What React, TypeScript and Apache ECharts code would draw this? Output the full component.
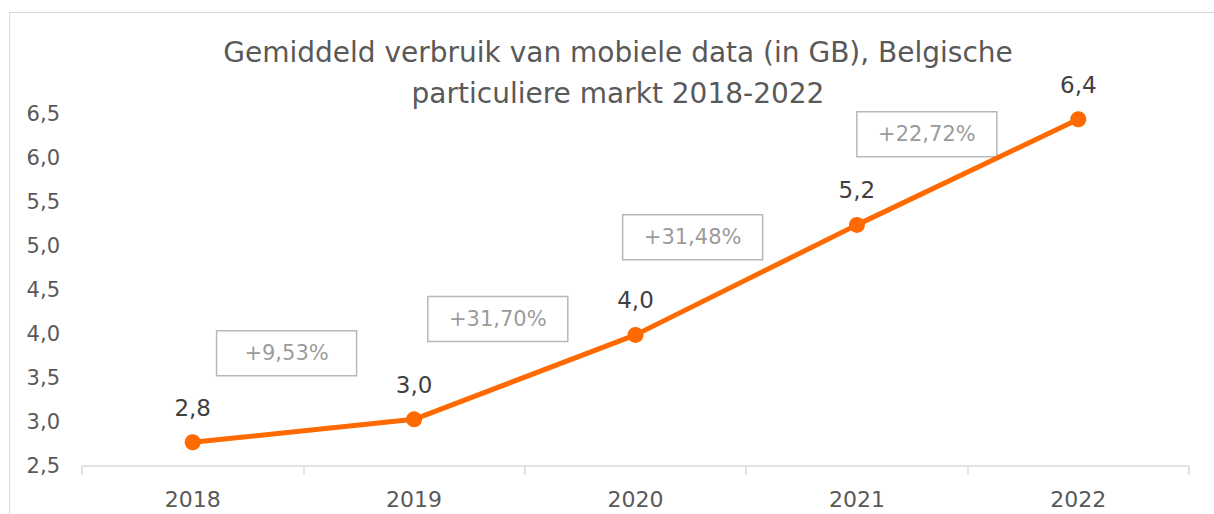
import React, { useEffect, useRef } from "react";
import * as echarts from "echarts";

const years = ["2018", "2019", "2020", "2021", "2022"];
const usageGB = [2.77, 3.03, 3.99, 5.24, 6.44];
const growthLabels = ["+9,53%", "+31,70%", "+31,48%", "+22,72%"];
const growthX = [0.424, 1.378, 2.258, 3.316];
const growthY = [3.78, 4.17, 5.1, 6.27];
const titleText = "Gemiddeld verbruik van mobiele data (in GB), Belgische\nparticuliere markt 2018-2022";

const FONT = "DejaVu Sans";
const fmt = (v: number) => v.toFixed(1).replace(".", ",");

export default function App() {
  const ref = useRef<HTMLDivElement>(null);
  useEffect(() => {
    if (!ref.current) return;
    const chart = echarts.init(ref.current, undefined, { renderer: "svg" });
    chart.setOption({
      animation: false,
      backgroundColor: "#ffffff",
      title: {
        text: titleText,
        left: 613,
        textAlign: "center",
        top: 27,
        textStyle: {
          fontFamily: FONT,
          fontSize: 28,
          fontWeight: "normal",
          color: "#595959",
          lineHeight: 41,
        },
      },
      graphic: [
        {
          type: "rect",
          shape: { x: 9.5, y: 12.5, width: 1300, height: 600 },
          style: { fill: "none", stroke: "#d9d9d9", lineWidth: 1 },
          silent: true,
        },
      ],
      grid: { left: 82, right: 25, top: 114, bottom: 48, containLabel: false },
      xAxis: [
        {
          type: "category",
          data: years,
          boundaryGap: true,
          axisLine: { show: true, lineStyle: { color: "#d9d9d9", width: 1.5 } },
          axisTick: { show: true, length: 9, lineStyle: { color: "#d9d9d9", width: 1.5 } },
          axisLabel: { fontFamily: FONT, fontSize: 22, color: "#595959", margin: 22 },
          splitLine: { show: false },
        },
        {
          type: "value",
          min: -0.5,
          max: 4.5,
          show: false,
        },
      ],
      yAxis: {
        type: "value",
        min: 2.5,
        max: 6.5,
        interval: 0.5,
        axisLine: { show: false },
        axisTick: { show: false },
        splitLine: { show: false },
        axisLabel: {
          fontFamily: FONT,
          fontSize: 21,
          color: "#595959",
          margin: 22,
          formatter: (v: number) => fmt(v),
        },
      },
      series: [
        {
          type: "line",
          data: usageGB,
          xAxisIndex: 0,
          symbol: "circle",
          symbolSize: 16,
          lineStyle: { color: "#ff6a00", width: 5 },
          itemStyle: { color: "#ff6a00" },
          label: {
            show: true,
            position: "top",
            distance: 15,
            fontFamily: FONT,
            fontSize: 23,
            color: "#404040",
            formatter: (p: any) => fmt(p.value),
          },
        },
        {
          type: "scatter",
          xAxisIndex: 1,
          data: growthX.map((x, i) => [x, growthY[i]]),
          symbolSize: 0,
          itemStyle: { color: "transparent" },
          silent: true,
          label: {
            show: true,
            position: "inside",
            fontFamily: FONT,
            fontSize: 21,
            color: "#808080",
            borderColor: "#a6a6a6",
            borderWidth: 1.5,
            width: 140,
            height: 45,
            align: "center",
            verticalAlign: "middle",
            lineHeight: 45,
            formatter: (p: any) => growthLabels[p.dataIndex],
          },
        },
      ],
    });
    return () => chart.dispose();
  }, []);
  return (
    <div
      ref={ref}
      style={{ position: "fixed", left: 0, top: 0, width: 1214, height: 514 }}
    />
  );
}
